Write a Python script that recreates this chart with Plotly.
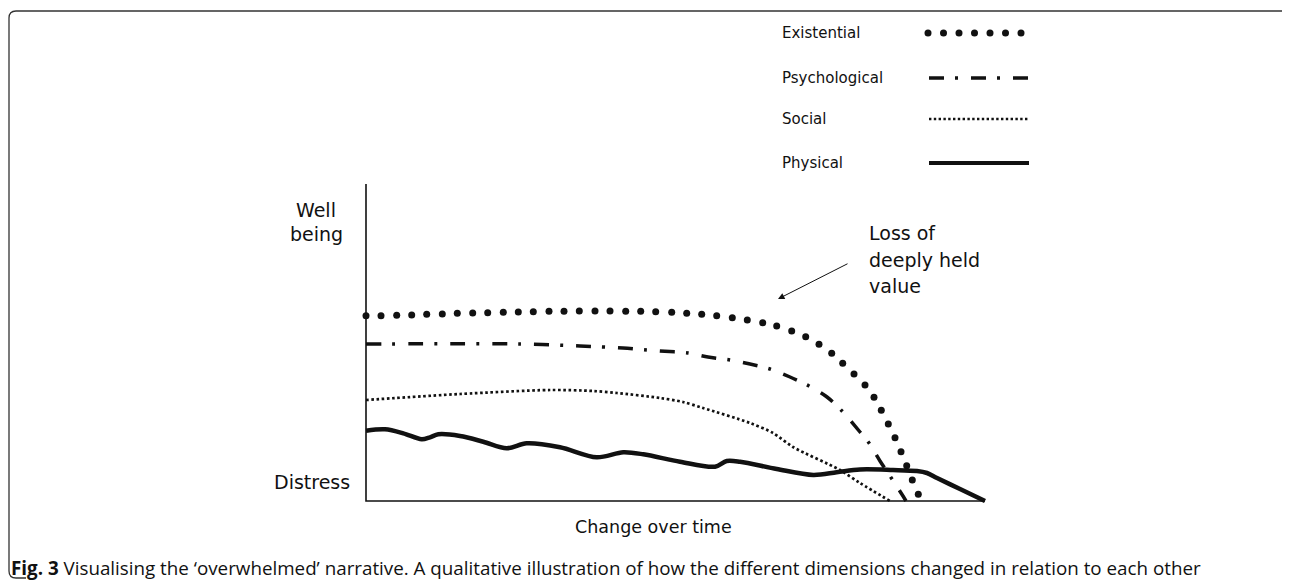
import plotly.graph_objects as go

# Qualitative curves.
# x = time measured from the vertical axis, y = height above the time axis (arbitrary units)
time_max = 619
wellbeing_max = 317

existential_x = [0, 15, 30.7, 45.7, 60.7, 76.3, 91.3, 106.7, 121.7, 137.3, 152.3, 167.3, 183, 198,
                 213.3, 229, 244, 259.7, 274.7, 289.7, 305.7, 320.7, 335.7, 350.7, 366.3, 381.3,
                 396.7, 410.7, 425.7, 439.7, 453, 465.7, 476.7, 488, 499, 508, 515.3, 522.3, 529,
                 535, 540.7, 546.3, 552.3]
existential_y = [185.3, 185.3, 185.7, 186, 186.7, 187, 187.7, 188, 188.3, 188.7, 189, 189.3, 189.7,
                 189.7, 190, 190, 190, 189.7, 189.7, 189.3, 188.7, 187.7, 186.7, 185.3, 183.3, 181,
                 178.3, 175, 170, 164.3, 156.7, 147.7, 137.7, 127, 116, 103.7, 90.7, 77, 63.3, 49.3,
                 35.3, 21, 6.7]

psychological_x = [0, 154, 214, 257, 281, 294, 322, 342, 364, 384, 404, 424, 443, 461, 476, 494,
                   503, 514, 526, 537, 540]
psychological_y = [157, 157, 155, 153, 151, 150, 148, 144, 141, 137, 132, 124, 115, 104, 90, 69,
                   58, 40, 22, 5, 0]

social_x = [0, 94, 184, 227, 251, 294, 317, 337, 384, 407, 427, 474, 494, 524]
social_y = [101, 107, 111, 110, 108, 103, 99, 93, 78, 68, 54, 31, 18, 0]

physical_x = [0, 19, 37.3, 55.7, 64, 72.3, 94, 117.3, 140.7, 160.7, 194, 230.7, 257.3, 277.3, 314,
              349, 360.7, 374, 410.7, 447.3, 470.7, 494, 527, 551, 561, 571, 594, 619]
physical_y = [70.3, 71.7, 67.7, 61.7, 63.7, 66.7, 65, 59.3, 52.7, 57.7, 53.7, 43.7, 48.7, 46.7,
              39.3, 34.3, 40, 39.3, 32, 26, 28.7, 31.5, 31, 30, 28, 23, 12, 0]

legend_labels = ["Existential", "Psychological", "Social", "Physical"]
caption = ("<b>Fig. 3</b> Visualising the \u2018overwhelmed\u2019 narrative. A qualitative illustration "
           "of how the different dimensions changed in relation to each other")

INK = "#111111"
FONT = "DejaVu Sans"

fig = go.Figure()

fig.add_trace(go.Scatter(x=existential_x, y=existential_y, mode="markers",
                         marker=dict(size=7, color=INK), cliponaxis=False))
fig.add_trace(go.Scatter(x=psychological_x, y=psychological_y, mode="lines",
                         line=dict(color=INK, width=3.5, shape="spline", smoothing=0.8,
                                   dash="15px,11px,3px,13px")))
fig.add_trace(go.Scatter(x=social_x, y=social_y, mode="lines",
                         line=dict(color=INK, width=2.7, shape="spline", smoothing=0.8,
                                   dash="2.6px,2.6px")))
fig.add_trace(go.Scatter(x=physical_x, y=physical_y, mode="lines",
                         line=dict(color=INK, width=4.5, shape="spline", smoothing=0.9)))

# hand-made legend: label on the left, long sample on the right
legend_y = [468, 423, 382, 338]
sample_x0, sample_x1 = 563, 662
n_dots = 7
fig.add_trace(go.Scatter(
    x=[sample_x0 - 1 + i * (sample_x1 - 6 - sample_x0) / (n_dots - 1) for i in range(n_dots)],
    y=[legend_y[0]] * n_dots, mode="markers", marker=dict(size=7, color=INK), cliponaxis=False))
fig.add_trace(go.Scatter(x=[sample_x0, sample_x1], y=[legend_y[1]] * 2, mode="lines",
                         line=dict(color=INK, width=3.5, dash="15px,11px,3px,13px")))
fig.add_trace(go.Scatter(x=[sample_x0, sample_x1], y=[legend_y[2]] * 2, mode="lines",
                         line=dict(color=INK, width=2.4, dash="2.4px,2.4px")))
fig.add_trace(go.Scatter(x=[sample_x0, sample_x1 + 1], y=[legend_y[3]] * 2, mode="lines",
                         line=dict(color=INK, width=4.2)))

annotations = []
for label, ly in zip(legend_labels, legend_y):
    annotations.append(dict(x=414, y=ly, text=label, xanchor="left", yanchor="middle",
                            showarrow=False, font=dict(size=15, family=FONT, color=INK)))

big = dict(size=19, family=FONT, color=INK)
annotations += [
    dict(x=-50, y=291, text="Well", showarrow=False, xanchor="center", yanchor="middle", font=big),
    dict(x=-50, y=267, text="being", showarrow=False, xanchor="center", yanchor="middle", font=big),
    dict(x=-54, y=19, text="Distress", showarrow=False, xanchor="center", yanchor="middle", font=big),
    dict(x=501, y=268, text="Loss of", showarrow=False, xanchor="left", yanchor="middle", font=big),
    dict(x=501, y=241, text="deeply held", showarrow=False, xanchor="left", yanchor="middle", font=big),
    dict(x=501, y=215, text="value", showarrow=False, xanchor="left", yanchor="middle", font=big),
    dict(x=412, y=202, ax=483, ay=238, axref="x", ayref="y", text="", showarrow=True,
         arrowhead=2, arrowsize=1.3, arrowwidth=1, arrowcolor=INK),
    dict(x=207, y=-26, text="Change over time", showarrow=False, xanchor="left", yanchor="middle",
         font=dict(size=17.5, family=FONT, color=INK)),
    dict(x=-357, y=-67, text=caption, showarrow=False, xanchor="left", yanchor="middle",
         font=dict(size=18.8, family="Open Sans", color=INK)),
]

shapes = [
    # axes
    dict(type="path", xref="x", yref="y", path=f"M 0,{wellbeing_max} L 0,0 L {time_max},0",
         line=dict(color=INK, width=1.6)),
    # figure frame
    dict(type="path", xref="x", yref="y",
         path="M 924,490 L -350,490 Q -357,490 -357,483 L -357,-70 Q -357,-77 -350,-77 L -340,-77",
         line=dict(color="#333333", width=1.3)),
]

# the page puts the plot 8px in from the corner, so the canvas is 8px smaller
fig.update_layout(
    width=1282, height=576,
    margin=dict(l=0, r=0, t=0, b=0),
    paper_bgcolor="white", plot_bgcolor="white",
    showlegend=False,
    xaxis=dict(range=[-358, 924], visible=False, fixedrange=True),
    yaxis=dict(range=[-83, 493], visible=False, fixedrange=True),
    annotations=annotations,
    shapes=shapes,
)

fig.write_html("out.html")
